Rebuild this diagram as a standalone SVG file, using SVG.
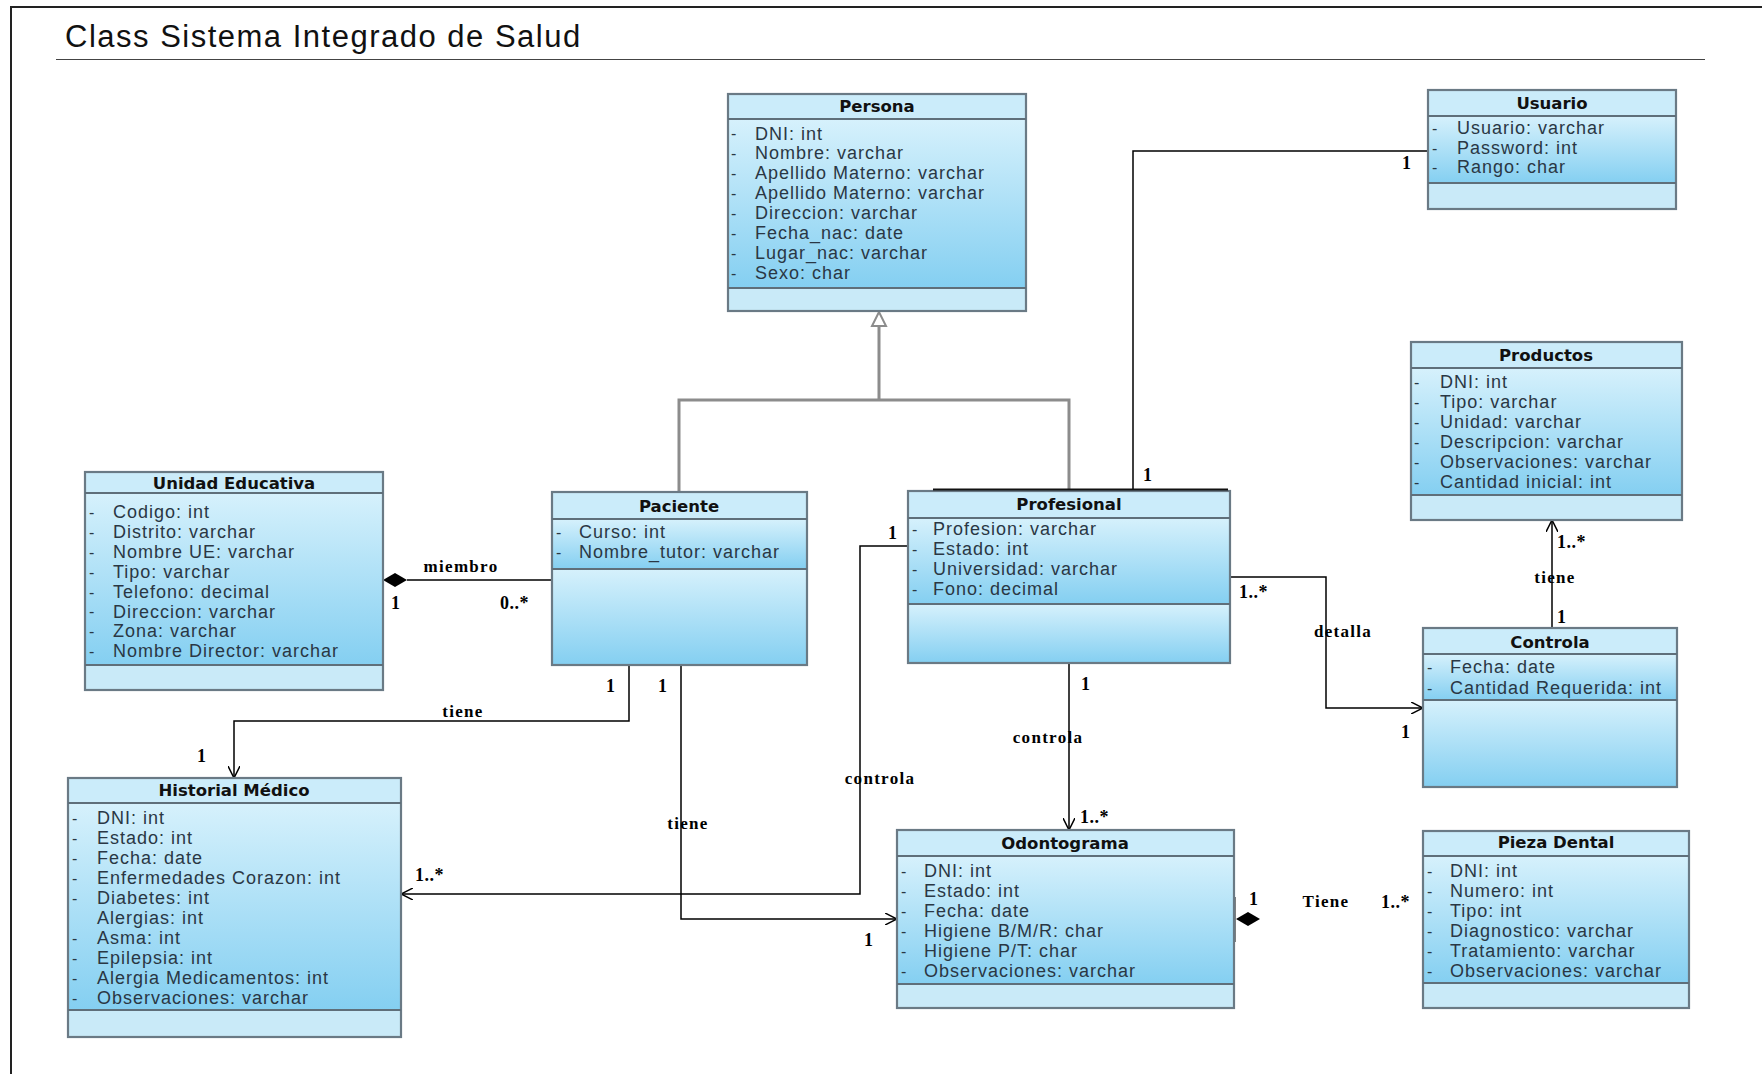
<svg xmlns="http://www.w3.org/2000/svg" width="1762" height="1074" viewBox="0 0 1762 1074">
  <defs>
    <linearGradient id="cg" x1="0" y1="0" x2="0" y2="1">
      <stop offset="0" stop-color="#d6f1fc"/>
      <stop offset="1" stop-color="#84cff1"/>
    </linearGradient>
    <marker id="open" viewBox="0 0 12 12" refX="12" refY="6" markerWidth="12" markerHeight="12" markerUnits="userSpaceOnUse" orient="auto">
      <path d="M0,0 L12,6 L0,12" fill="none" stroke="#000" stroke-width="1.5"/>
    </marker>
    <style>
      .hd { fill: #cbecfa; }
      .lt { fill: #c9eaf8; }
      .gr { fill: url(#cg); }
      .ol { fill: none; stroke: #6a7a85; stroke-width: 2.2; }
      .sep { stroke: #5f6f7a; stroke-width: 2; }
      .name { font-family: "DejaVu Sans", sans-serif; font-weight: bold; font-size: 16.5px; fill: #111; text-anchor: middle; }
      .at { font-family: "Liberation Sans", Arial, sans-serif; font-size: 18px; letter-spacing: 1px; fill: #2a3744; }
      .dash { font-family: "Liberation Sans", Arial, sans-serif; font-size: 16px; fill: #2a3744; }
      .conn { fill: none; stroke: #000; stroke-width: 1.5; }
      .gen { fill: none; stroke: #8c8c8c; stroke-width: 3; }
      .lbl { font-family: "Liberation Serif", "Times New Roman", serif; font-weight: bold; font-size: 17px; letter-spacing: 1.3px; fill: #000; }
      .mul { font-family: "Liberation Serif", "Times New Roman", serif; font-weight: bold; font-size: 18px; letter-spacing: 0.5px; fill: #000; }
      .title { font-family: "Liberation Sans", Arial, sans-serif; font-size: 31px; letter-spacing: 1.5px; fill: #111; }
    </style>
  </defs>

  <rect width="1762" height="1074" fill="#fff"/>

  <!-- frame -->
  <g id="frame">
    <path d="M11,1080 V7 H1762" fill="none" stroke="#222" stroke-width="2"/>
    <text class="title" x="65" y="47">Class Sistema Integrado de Salud</text>
    <line x1="56" y1="59.5" x2="1705" y2="59.5" stroke="#444" stroke-width="1.2"/>
  </g>

  <!-- connectors -->
  <g id="connectors">
    <!-- generalization Paciente / Profesional -> Persona -->
    <path class="gen" d="M879,326 V400 M679,492 V400 H1069 V491"/>
    <polygon points="879,312 872,326 886,326" fill="#fff" stroke="#8c8c8c" stroke-width="2"/>

    <!-- miembro -->
    <path class="conn" d="M407,580 H552"/>
    <polygon points="383,580 395,573 407,580 395,587" fill="#000"/>
    <text class="lbl" x="461" y="572" text-anchor="middle">miembro</text>
    <text class="mul" x="391" y="609">1</text>
    <text class="mul" x="500" y="609">0..*</text>

    <!-- Paciente tiene Historial -->
    <path class="conn" d="M629,665 V721 H234 V778" marker-end="url(#open)"/>
    <text class="lbl" x="463" y="717" text-anchor="middle">tiene</text>
    <text class="mul" x="606" y="692">1</text>
    <text class="mul" x="197" y="762">1</text>

    <!-- Paciente tiene Odontograma -->
    <path class="conn" d="M681,665 V919 H897" marker-end="url(#open)"/>
    <text class="mul" x="658" y="692">1</text>
    <text class="lbl" x="688" y="829" text-anchor="middle">tiene</text>
    <text class="mul" x="864" y="946">1</text>

    <!-- Profesional controla Historial -->
    <path class="conn" d="M908,546 H860 V894 H401" marker-end="url(#open)"/>
    <text class="mul" x="888" y="539">1</text>
    <text class="lbl" x="880" y="784" text-anchor="middle">controla</text>
    <text class="mul" x="415" y="881">1..*</text>

    <!-- Profesional controla Odontograma -->
    <path class="conn" d="M1069,663 V830" marker-end="url(#open)"/>
    <text class="mul" x="1081" y="690">1</text>
    <text class="lbl" x="1048" y="743" text-anchor="middle">controla</text>
    <text class="mul" x="1080" y="823">1..*</text>

    <!-- Profesional - Usuario -->
    <path class="conn" d="M1133,491 V151 H1428"/>
    <text class="mul" x="1143" y="481">1</text>
    <text class="mul" x="1402" y="169">1</text>

    <!-- Profesional detalla Controla -->
    <path class="conn" d="M1230,577 H1326 V708 H1423" marker-end="url(#open)"/>
    <text class="mul" x="1239" y="598">1..*</text>
    <text class="lbl" x="1343" y="637" text-anchor="middle">detalla</text>
    <text class="mul" x="1401" y="738">1</text>

    <!-- Controla tiene Productos -->
    <path class="conn" d="M1552,628 V520" marker-end="url(#open)"/>
    <text class="mul" x="1557" y="548">1..*</text>
    <text class="lbl" x="1555" y="583" text-anchor="middle">tiene</text>
    <text class="mul" x="1557" y="623">1</text>

    <!-- Odontograma Tiene Pieza Dental (composition end) -->
    <path d="M1234,897 V942" stroke="#000" stroke-width="3"/>
    <polygon points="1236,919 1248,912 1260,919 1248,926" fill="#000"/>
    <text class="mul" x="1249" y="905">1</text>
    <text class="lbl" x="1326" y="907" text-anchor="middle">Tiene</text>
    <text class="mul" x="1381" y="908">1..*</text>
  </g>

  <!-- Persona -->
  <g id="persona">
    <rect class="hd" x="728" y="94" width="298" height="25"/>
    <rect class="gr" x="728" y="119" width="298" height="169"/>
    <rect class="lt" x="728" y="288" width="298" height="23"/>
    <rect class="ol" x="728" y="94" width="298" height="217"/>
    <path class="sep" d="M728,119 H1026 M728,288 H1026"/>
    <text class="name" x="877" y="112">Persona</text>
    <g class="dash"><text x="731" y="139">-</text><text x="731" y="159">-</text><text x="731" y="179">-</text><text x="731" y="199">-</text><text x="731" y="219">-</text><text x="731" y="239">-</text><text x="731" y="259">-</text><text x="731" y="279">-</text></g>
    <text class="at" x="755" y="139.5">DNI: int</text>
    <text class="at" x="755" y="159.4">Nombre: varchar</text>
    <text class="at" x="755" y="179.3">Apellido Materno: varchar</text>
    <text class="at" x="755" y="199.2">Apellido Materno: varchar</text>
    <text class="at" x="755" y="219.1">Direccion: varchar</text>
    <text class="at" x="755" y="239">Fecha_nac: date</text>
    <text class="at" x="755" y="258.9">Lugar_nac: varchar</text>
    <text class="at" x="755" y="278.8">Sexo: char</text>
  </g>

  <!-- Usuario -->
  <g id="usuario">
    <rect class="hd" x="1428" y="90" width="248" height="26"/>
    <rect class="gr" x="1428" y="116" width="248" height="67"/>
    <rect class="lt" x="1428" y="183" width="248" height="26"/>
    <rect class="ol" x="1428" y="90" width="248" height="119"/>
    <path class="sep" d="M1428,116 H1676 M1428,183 H1676"/>
    <text class="name" x="1552" y="109">Usuario</text>
    <g class="dash"><text x="1432" y="134">-</text><text x="1432" y="153.5">-</text><text x="1432" y="173">-</text></g>
    <text class="at" x="1457" y="134">Usuario: varchar</text>
    <text class="at" x="1457" y="153.5">Password: int</text>
    <text class="at" x="1457" y="173">Rango: char</text>
  </g>

  <!-- Productos -->
  <g id="productos">
    <rect class="hd" x="1411" y="342" width="271" height="26"/>
    <rect class="gr" x="1411" y="368" width="271" height="127"/>
    <rect class="lt" x="1411" y="495" width="271" height="25"/>
    <rect class="ol" x="1411" y="342" width="271" height="178"/>
    <path class="sep" d="M1411,368 H1682 M1411,495 H1682"/>
    <text class="name" x="1546" y="361">Productos</text>
    <g class="dash"><text x="1414" y="388">-</text><text x="1414" y="408">-</text><text x="1414" y="428">-</text><text x="1414" y="448">-</text><text x="1414" y="468">-</text><text x="1414" y="488">-</text></g>
    <text class="at" x="1440" y="388">DNI: int</text>
    <text class="at" x="1440" y="408">Tipo: varchar</text>
    <text class="at" x="1440" y="428">Unidad: varchar</text>
    <text class="at" x="1440" y="448">Descripcion: varchar</text>
    <text class="at" x="1440" y="468">Observaciones: varchar</text>
    <text class="at" x="1440" y="488">Cantidad inicial: int</text>
  </g>

  <!-- Unidad Educativa -->
  <g id="unidad-educativa">
    <rect class="hd" x="85" y="472" width="298" height="21"/>
    <rect class="gr" x="85" y="493" width="298" height="172"/>
    <rect class="lt" x="85" y="665" width="298" height="25"/>
    <rect class="ol" x="85" y="472" width="298" height="218"/>
    <path class="sep" d="M85,493 H383 M85,665 H383"/>
    <text class="name" x="234" y="489">Unidad Educativa</text>
    <g class="dash"><text x="89" y="518">-</text><text x="89" y="538">-</text><text x="89" y="558">-</text><text x="89" y="578">-</text><text x="89" y="598">-</text><text x="89" y="617">-</text><text x="89" y="637">-</text><text x="89" y="657">-</text></g>
    <text class="at" x="113" y="518">Codigo: int</text>
    <text class="at" x="113" y="537.9">Distrito: varchar</text>
    <text class="at" x="113" y="557.8">Nombre UE: varchar</text>
    <text class="at" x="113" y="577.7">Tipo: varchar</text>
    <text class="at" x="113" y="597.6">Telefono: decimal</text>
    <text class="at" x="113" y="617.5">Direccion: varchar</text>
    <text class="at" x="113" y="637.4">Zona: varchar</text>
    <text class="at" x="113" y="657.3">Nombre Director: varchar</text>
  </g>

  <!-- Paciente -->
  <g id="paciente">
    <rect class="hd" x="552" y="492" width="255" height="27"/>
    <rect class="gr" x="552" y="519" width="255" height="50"/>
    <rect class="gr" x="552" y="569" width="255" height="96"/>
    <rect class="ol" x="552" y="492" width="255" height="173"/>
    <path class="sep" d="M552,519 H807 M552,569 H807"/>
    <text class="name" x="679" y="511.5">Paciente</text>
    <g class="dash"><text x="556" y="538">-</text><text x="556" y="558">-</text></g>
    <text class="at" x="579" y="538">Curso: int</text>
    <text class="at" x="579" y="558">Nombre_tutor: varchar</text>
  </g>

  <!-- Profesional -->
  <g id="profesional">
    <rect class="hd" x="908" y="491" width="322" height="27"/>
    <rect class="gr" x="908" y="518" width="322" height="86"/>
    <rect class="gr" x="908" y="604" width="322" height="59"/>
    <rect class="ol" x="908" y="491" width="322" height="172"/>
    <path class="sep" d="M908,518 H1230 M908,604 H1230"/>
    <path d="M933,489.5 H1228" stroke="#111" stroke-width="2"/>
    <text class="name" x="1069" y="509.5">Profesional</text>
    <g class="dash"><text x="912" y="534.5">-</text><text x="912" y="554.5">-</text><text x="912" y="574.5">-</text><text x="912" y="594.5">-</text></g>
    <text class="at" x="933" y="534.5">Profesion: varchar</text>
    <text class="at" x="933" y="554.5">Estado: int</text>
    <text class="at" x="933" y="574.5">Universidad: varchar</text>
    <text class="at" x="933" y="594.5">Fono: decimal</text>
  </g>

  <!-- Controla -->
  <g id="controla">
    <rect class="hd" x="1423" y="628" width="254" height="26"/>
    <rect class="gr" x="1423" y="654" width="254" height="46"/>
    <rect class="gr" x="1423" y="700" width="254" height="87"/>
    <rect class="ol" x="1423" y="628" width="254" height="159"/>
    <path class="sep" d="M1423,654 H1677 M1423,700 H1677"/>
    <text class="name" x="1550" y="647.5">Controla</text>
    <g class="dash"><text x="1427" y="673">-</text><text x="1427" y="693.5">-</text></g>
    <text class="at" x="1450" y="673">Fecha: date</text>
    <text class="at" x="1450" y="693.5">Cantidad Requerida: int</text>
  </g>

  <!-- Historial Médico -->
  <g id="historial-medico">
    <rect class="hd" x="68" y="778" width="333" height="25"/>
    <rect class="gr" x="68" y="803" width="333" height="207"/>
    <rect class="lt" x="68" y="1010" width="333" height="27"/>
    <rect class="ol" x="68" y="778" width="333" height="259"/>
    <path class="sep" d="M68,803 H401 M68,1010 H401"/>
    <text class="name" x="234" y="796">Historial Médico</text>
    <g class="dash"><text x="72" y="824">-</text><text x="72" y="844">-</text><text x="72" y="864">-</text><text x="72" y="884">-</text><text x="72" y="904">-</text><text x="72" y="944">-</text><text x="72" y="964">-</text><text x="72" y="984">-</text><text x="72" y="1004">-</text></g>
    <text class="at" x="97" y="824">DNI: int</text>
    <text class="at" x="97" y="844">Estado: int</text>
    <text class="at" x="97" y="864">Fecha: date</text>
    <text class="at" x="97" y="884">Enfermedades Corazon: int</text>
    <text class="at" x="97" y="904">Diabetes: int</text>
    <text class="at" x="97" y="924">Alergias: int</text>
    <text class="at" x="97" y="944">Asma: int</text>
    <text class="at" x="97" y="964">Epilepsia: int</text>
    <text class="at" x="97" y="984">Alergia Medicamentos: int</text>
    <text class="at" x="97" y="1004">Observaciones: varchar</text>
  </g>

  <!-- Odontograma -->
  <g id="odontograma">
    <rect class="hd" x="897" y="830" width="337" height="26"/>
    <rect class="gr" x="897" y="856" width="337" height="128"/>
    <rect class="lt" x="897" y="984" width="337" height="24"/>
    <rect class="ol" x="897" y="830" width="337" height="178"/>
    <path class="sep" d="M897,856 H1234 M897,984 H1234"/>
    <text class="name" x="1065" y="849">Odontograma</text>
    <g class="dash"><text x="901" y="876.5">-</text><text x="901" y="896.5">-</text><text x="901" y="916.5">-</text><text x="901" y="936.5">-</text><text x="901" y="956.5">-</text><text x="901" y="976.5">-</text></g>
    <text class="at" x="924" y="876.5">DNI: int</text>
    <text class="at" x="924" y="896.5">Estado: int</text>
    <text class="at" x="924" y="916.5">Fecha: date</text>
    <text class="at" x="924" y="936.5">Higiene B/M/R: char</text>
    <text class="at" x="924" y="956.5">Higiene P/T: char</text>
    <text class="at" x="924" y="976.5">Observaciones: varchar</text>
  </g>

  <!-- Pieza Dental -->
  <g id="pieza-dental">
    <rect class="hd" x="1423" y="831" width="266" height="25"/>
    <rect class="gr" x="1423" y="856" width="266" height="127"/>
    <rect class="lt" x="1423" y="983" width="266" height="25"/>
    <rect class="ol" x="1423" y="831" width="266" height="177"/>
    <path class="sep" d="M1423,856 H1689 M1423,983 H1689"/>
    <text class="name" x="1556" y="847.5">Pieza Dental</text>
    <g class="dash"><text x="1427" y="876.5">-</text><text x="1427" y="896.5">-</text><text x="1427" y="916.5">-</text><text x="1427" y="936.5">-</text><text x="1427" y="956.5">-</text><text x="1427" y="976.5">-</text></g>
    <text class="at" x="1450" y="876.5">DNI: int</text>
    <text class="at" x="1450" y="896.5">Numero: int</text>
    <text class="at" x="1450" y="916.5">Tipo: int</text>
    <text class="at" x="1450" y="936.5">Diagnostico: varchar</text>
    <text class="at" x="1450" y="956.5">Tratamiento: varchar</text>
    <text class="at" x="1450" y="976.5">Observaciones: varchar</text>
  </g>
</svg>
